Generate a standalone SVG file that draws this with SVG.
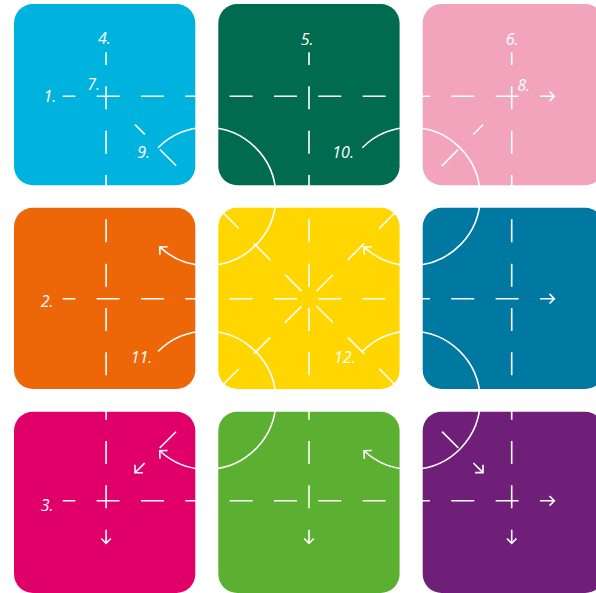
<svg xmlns="http://www.w3.org/2000/svg" width="596" height="593" viewBox="0 0 596 593">
  <style>
    .tile { stroke: none; }
    .dash { fill: none; stroke: #ffffff; stroke-width: 1.6; stroke-dasharray: 23 21.33; }
    .arc { fill: none; stroke: #ffffff; stroke-width: 1.6; }
    .lbl { font-family: "Open Sans", "Liberation Sans", sans-serif; font-style: italic; font-size: 16px; fill: #ffffff; }
  </style>
  <defs>
    <marker id="ah" markerUnits="userSpaceOnUse" viewBox="-10 -10 20 20" markerWidth="20" markerHeight="20" refX="0" refY="0" orient="auto">
      <path d="M -4.8 -4.8 L 0 0 L -4.8 4.8" fill="none" stroke="#ffffff" stroke-width="1.6" stroke-dasharray="none"/>
    </marker>
    <marker id="ahb" markerUnits="userSpaceOnUse" viewBox="-10 -10 20 20" markerWidth="20" markerHeight="20" refX="0" refY="0" orient="auto">
      <path d="M -5.6 -5.6 L 0 0 L -5.6 5.6" fill="none" stroke="#ffffff" stroke-width="1.6" stroke-dasharray="none"/>
    </marker>
  </defs>

  <rect width="596" height="593" fill="#ffffff"/>

  <g id="tile-1"><rect class="tile" x="14" y="4" width="181.3" height="181.3" rx="19" fill="#00B3DF"/></g>
  <g id="tile-2"><rect class="tile" x="218.3" y="4" width="181.3" height="181.3" rx="19" fill="#006B4F"/></g>
  <g id="tile-3"><rect class="tile" x="422.7" y="4" width="181.3" height="181.3" rx="19" fill="#F1A4BC"/></g>
  <g id="tile-4"><rect class="tile" x="14" y="207.7" width="181.3" height="181.3" rx="19" fill="#ED6607"/></g>
  <g id="tile-5"><rect class="tile" x="218.3" y="207.7" width="181.3" height="181.3" rx="19" fill="#FFD600"/></g>
  <g id="tile-6"><rect class="tile" x="422.7" y="207.7" width="181.3" height="181.3" rx="19" fill="#0079A2"/></g>
  <g id="tile-7"><rect class="tile" x="14" y="411.7" width="181.3" height="181.3" rx="19" fill="#E1006A"/></g>
  <g id="tile-8"><rect class="tile" x="218.3" y="411.7" width="181.3" height="181.3" rx="19" fill="#5CB031"/></g>
  <g id="tile-9"><rect class="tile" x="422.7" y="411.7" width="181.3" height="181.3" rx="19" fill="#6F1F77"/></g>

  <g id="connectors">
    <!-- horizontal lines 1-3 -->
    <path class="dash" d="M 62.7 96.3 H 554.3" stroke-dashoffset="10.4" marker-end="url(#ah)"/>
    <path class="dash" d="M 62.7 298.7 H 554.3" stroke-dashoffset="10.4" marker-end="url(#ah)"/>
    <path class="dash" d="M 62.7 500.8 H 554.3" stroke-dashoffset="10.4" marker-end="url(#ah)"/>
    <!-- vertical lines 4-6 -->
    <path class="dash" d="M 106.1 52.3 V 543.3" stroke-dashoffset="10.3" marker-end="url(#ah)"/>
    <path class="dash" d="M 309 52.3 V 543.3" stroke-dashoffset="10.3" marker-end="url(#ah)"/>
    <path class="dash" d="M 511.7 52.3 V 543.3" stroke-dashoffset="10.3" marker-end="url(#ah)"/>
    <!-- diagonals 7, 8 -->
    <path class="dash" d="M 135 124.6 L 483 472.6" stroke-dashoffset="9.1" marker-end="url(#ahb)"/>
    <path class="dash" d="M 483 124.7 L 135 472.7" stroke-dashoffset="9.1" marker-end="url(#ahb)"/>
    <!-- rotation arcs 9-12 -->
    <path class="arc" d="M 158.01 147.71 A 69 69 0 1 1 159.74 246.96" marker-end="url(#ahb)"/>
    <path class="arc" d="M 362.31 147.71 A 69 69 0 1 1 364.04 246.96" marker-end="url(#ahb)"/>
    <path class="arc" d="M 158.01 351.51 A 69 69 0 1 1 159.74 450.76" marker-end="url(#ahb)"/>
    <path class="arc" d="M 362.31 351.51 A 69 69 0 1 1 364.04 450.76" marker-end="url(#ahb)"/>
  </g>

  <g id="labels">
    <text class="lbl" x="43.5" y="101.7">1.</text>
    <text class="lbl" x="40.7" y="306.7">2.</text>
    <text class="lbl" x="40.7" y="510.7">3.</text>
    <text class="lbl" x="98" y="44.3">4.</text>
    <text class="lbl" x="300.7" y="45">5.</text>
    <text class="lbl" x="505.7" y="45">6.</text>
    <text class="lbl" x="87.3" y="90">7.</text>
    <text class="lbl" x="517.3" y="90.7">8.</text>
    <text class="lbl" x="137.3" y="158.3">9.</text>
    <text class="lbl" x="332.3" y="158.3">10.</text>
    <text class="lbl" x="130.7" y="363.3">11.</text>
    <text class="lbl" x="334" y="363.3">12.</text>
  </g>
</svg>
